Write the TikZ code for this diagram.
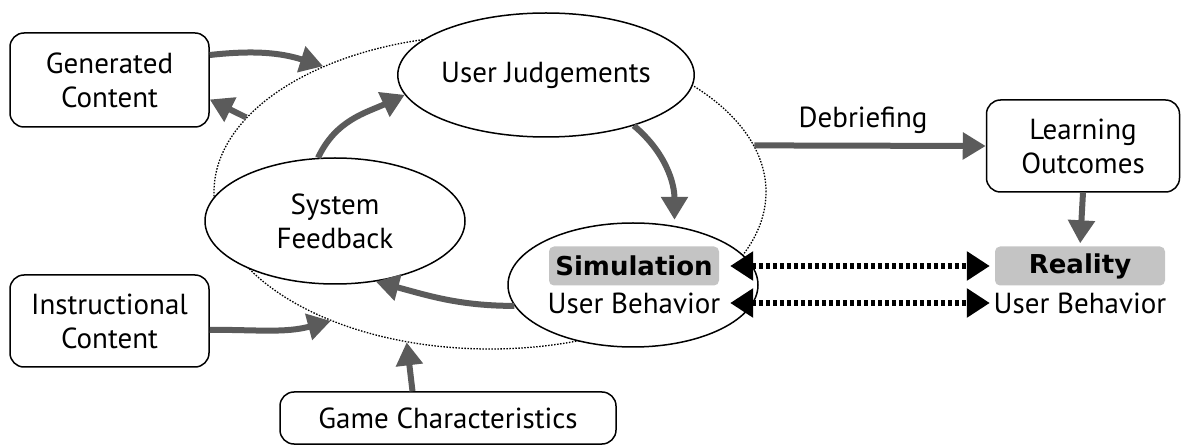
\documentclass[tikz,border=0pt]{standalone}
\usepackage{fontspec}
\setmainfont{PT Sans}
\newfontfamily\tagfont{DejaVu Sans}
\usetikzlibrary{shapes.geometric,arrows.meta}
\definecolor{flowgray}{HTML}{5B5B5B}
\definecolor{taggray}{HTML}{C4C4C4}
\newcommand\diagfont{\fontsize{29}{34}\selectfont}
\tikzset{
	box/.style={draw,line width=1.5pt,rounded corners=14pt,fill=white,align=center,inner sep=0pt},
	oval/.style={draw,ellipse,line width=1.5pt,fill=white,align=center,inner sep=0pt},
	tag/.style={fill=taggray,rounded corners=5pt,minimum width=170pt,minimum height=39pt,inner sep=0pt,font=\tagfont\fontsize{26}{34}\selectfont\bfseries},
	flow/.style={draw=flowgray,line width=6pt,-{Triangle[width=26pt,length=23pt]}},
	link/.style={line width=6pt,dash pattern=on 4pt off 3pt,{Triangle[width=28pt,length=23pt]}-{Triangle[width=28pt,length=23pt]}},
}

\begin{document}
\begin{tikzpicture}[x=1pt,y=-1pt,font=\diagfont]
		\useasboundingbox (0,0) rectangle (1184,446);
		% outer loop
		\node (loop) at (490,192)[ellipse,draw,line width=1.3pt,dash pattern=on 1.5pt off 1.5pt,minimum width=552pt,minimum height=314pt,inner sep=0pt]{};
		\node (judge) at (546,75)[oval,minimum width=248pt,minimum height=124pt]{User Judgements};
		\node (feedback) at (335,221)[oval,minimum width=260pt,minimum height=126pt]{System\\Feedback};
		\node (sim) at (633,285)[oval,minimum width=250pt,minimum height=124pt]{};
		\node (simtag) at (634,266)[tag]{Simulation};
		\node (simuser) at (634,303)[inner sep=0pt]{User Behavior};
		\node (realtag) at (1080,266)[tag]{Reality};
		\node (realuser) at (1080,303)[inner sep=0pt]{User Behavior};
		% outside boxes
		\node (gen) at (109.5,80)[box,minimum width=199pt,minimum height=94pt]{Generated\\Content};
		\node (instr) at (109.5,321)[box,minimum width=199pt,minimum height=92pt]{Instructional\\Content};
		\node (game) at (448,418)[box,minimum width=336pt,minimum height=52pt]{Game Characteristics};
		\node (learn) at (1083,146)[box,minimum width=193pt,minimum height=92pt]{Learning\\Outcomes};
		% arrows
		\draw[flow] (gen.14) to[bend left=12] (loop.143);
		\draw[flow] (loop.163) -- (gen.-11);
		\draw[flow] (feedback.105) to[out=65,in=205] (judge.188);
		\draw[flow,shorten >=6pt] (judge.-30) to[out=-40,in=90] (sim.55);
		\draw[flow] (sim.190) to[out=180,in=-15] (feedback.-56);
		\draw[flow] (instr.-5) to[out=0,in=195] (loop.219);
		\draw[flow] (game.143) -- (loop.241);
		\draw[flow] (loop.10) -- node[above=6pt,pos=0.47]{Debriefing} (learn.west);
		\draw[flow,shorten >=3pt] (learn.south) -- (realtag.north);
		\draw[link,shorten <=11pt,shorten >=5pt] (simtag.east) -- (realtag.west);
		\draw[link,shorten <=11pt,shorten >=5pt] (simtag.east |- simuser) -- (realtag.west |- realuser);
\end{tikzpicture}
\end{document}
